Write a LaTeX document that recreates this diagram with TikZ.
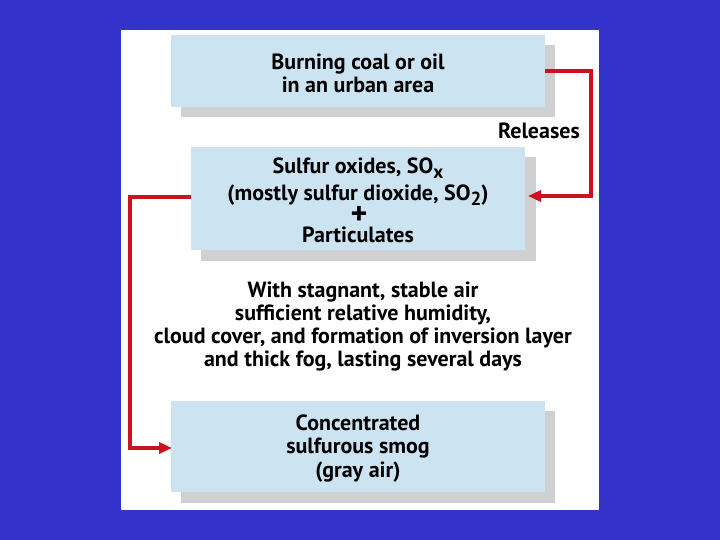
\documentclass[tikz,border=0pt]{standalone}
\usepackage{fontspec}
\setmainfont{PT Sans}
\usetikzlibrary{arrows.meta}
\definecolor{bgblue}{RGB}{51,51,204}
\definecolor{boxblue}{RGB}{204,228,242}
\definecolor{shadowgray}{RGB}{208,208,210}
\definecolor{arrowred}{RGB}{204,17,34}
\tikzset{
  boxshadow/.style={fill=shadowgray, draw=none},
  boxface/.style={fill=boxblue, draw=none},
  txt/.style={font=\fontsize{22}{24}\selectfont\bfseries, inner sep=0pt, anchor=base},
  redline/.style={draw=arrowred, line width=3.4pt, -{Triangle[length=13pt,width=11pt]}},
}
\newcommand{\subtxt}[1]{\raisebox{-0.45ex}{\fontsize{19}{20}\selectfont #1}}
\begin{document}
\begin{tikzpicture}[x=1pt,y=-1pt]
\useasboundingbox (0,0) rectangle (720,540);
\fill[bgblue] (0,0) rectangle (720,540);
\fill[white] (121,30) rectangle (599,510);
% box 1
\fill[boxshadow] (181,45) rectangle (555,117);
\fill[boxface] (171,35) rectangle (545,107);
\node[txt] (b1a) at (358,70) {Burning coal or oil};
\node[txt] (b1b) at (358,93) {in an urban area};
\coordinate (b1r) at (545,71);
% box 2
\fill[boxshadow] (201,157) rectangle (536,261);
\fill[boxface] (191,147) rectangle (525,250);
\node[txt] (b2a) at (358,174) {Sulfur oxides, SO\subtxt{x}};
\node[txt] (b2b) at (358,201) {(mostly sulfur dioxide, SO\subtxt{2})};
\node[txt, font=\fontsize{32}{32}\selectfont\bfseries] (b2c) at (359,225) {\raisebox{0pt}[16pt][0pt]{+}};
\node[txt] (b2d) at (358,243) {Particulates};
\coordinate (b2r) at (528,196);
\coordinate (b2l) at (191,197);
% box 3
\fill[boxshadow] (181,411) rectangle (555,503);
\fill[boxface] (171,401) rectangle (545,492);
\node[txt] (b3a) at (358,430) {Concentrated};
\node[txt] (b3b) at (358,453) {sulfurous smog};
\node[txt] (b3c) at (358,477) {(gray air)};
\coordinate (b3l) at (172,448);
% middle text
\node[txt] (m1) at (363,297) {With stagnant, stable air};
\node[txt] (m2) at (363,320) {sufficient relative humidity,};
\node[txt] (m3) at (363,343) {cloud cover, and formation of inversion layer};
\node[txt] (m4) at (363,366) {and thick fog, lasting several days};
\node[txt, anchor=base east] (rel) at (580,139) {Releases};
% connectors
\coordinate (c1) at (591,71);
\coordinate (c2) at (591,196);
\coordinate (c3) at (130,197);
\coordinate (c4) at (130,448);
\draw[redline] (b1r) -- (c1) -- (c2) -- (b2r);
\draw[redline] (b2l) -- (c3) -- (c4) -- (b3l);
\end{tikzpicture}
\end{document}
